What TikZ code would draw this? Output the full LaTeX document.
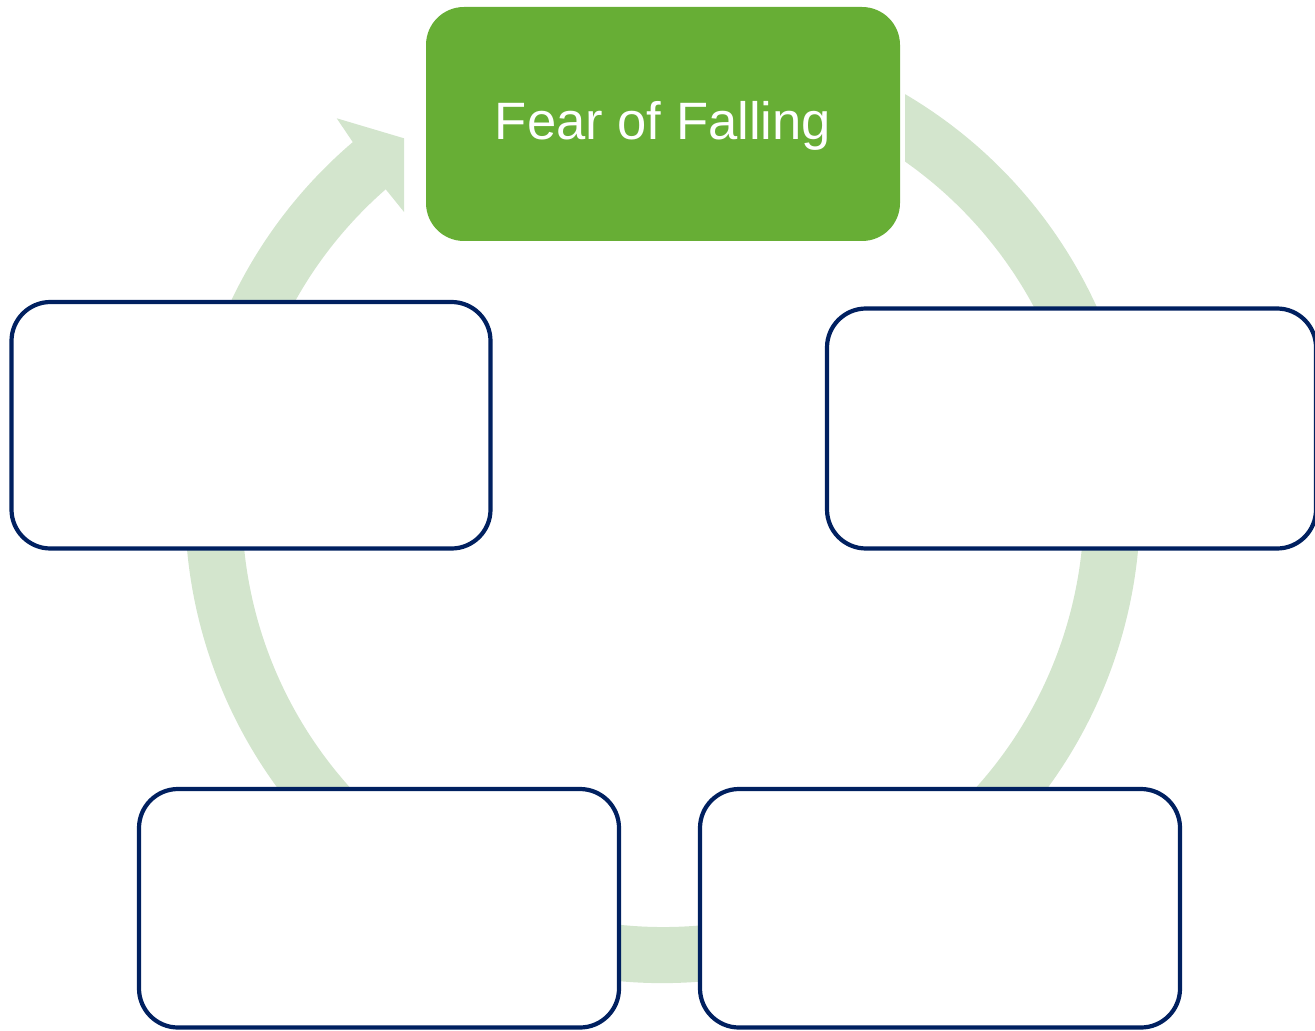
\documentclass[tikz,border=0pt]{standalone}
\usepackage{fontspec}
\setmainfont{Liberation Sans}
\definecolor{ringgreen}{RGB}{211,229,205}
\definecolor{topgreen}{RGB}{103,174,53}
\definecolor{navy}{RGB}{0,32,96}
\begin{document}
\begin{tikzpicture}[x=0.5pt,y=0.5pt,
  topbox/.style={rectangle, rounded corners=19pt, fill=topgreen, draw=none,
    minimum width=237pt, minimum height=117pt, inner sep=0pt, text=white,
    text height=21pt, text depth=5pt,
    font=\fontsize{26.3pt}{31pt}\selectfont},
  emptybox/.style={rectangle, rounded corners=19.5pt, fill=white, draw=navy,
    line width=2.1pt, inner sep=0pt}]
\useasboundingbox (0,0) rectangle (1315,1030);
\clip (0,0) rectangle (1315,1030);
% cycle ring with arrowhead
\begin{scope}
  \clip (-10,-10) -- (1330,-10) -- (1330,1040) -- (905,1040) -- (905,700)
        -- (404,700) -- (404,1040) -- (-10,1040) -- cycle;
  \fill[ringgreen] (662.5,524.5) ++(65:477.5)
    arc[start angle=65, end angle=-229.56, radius=477.5]
    -- (336.7,911.7) -- (440,881) -- (415,804.5) -- (385.7,840.7)
    arc[start angle=-228.8, end angle=65, radius=421] -- cycle;
\end{scope}
% nodes
\node[topbox] (fear) at (663,906) {Fear of Falling};
\node[emptybox, minimum width=239.5pt, minimum height=123.25pt] (left) at (251,604.75) {};
\node[emptybox, minimum width=244.5pt, minimum height=120pt] (right) at (1071.5,601.5) {};
\node[emptybox, minimum width=240pt, minimum height=119.25pt] (botleft) at (379,121.75) {};
\node[emptybox, minimum width=240pt, minimum height=119.25pt] (botright) at (940,121.75) {};
\end{tikzpicture}
\end{document}
